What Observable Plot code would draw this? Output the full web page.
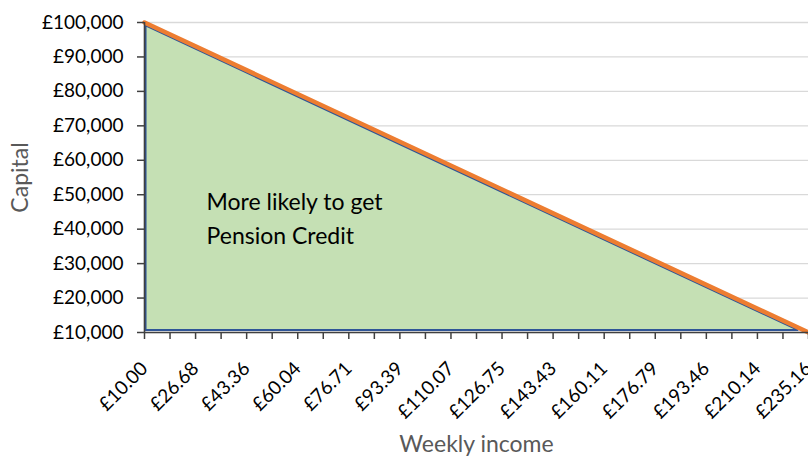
<!DOCTYPE html>
<html>
<head>
<meta charset="utf-8">
<script src="https://cdn.jsdelivr.net/npm/d3@7"></script>
<script src="https://cdn.jsdelivr.net/npm/@observablehq/plot@0.6"></script>
<style>
  html, body { margin: 0; padding: 0; background: #fff; }
  #chart { width: 808px; height: 457px; overflow: hidden; }
</style>
</head>
<body>
<div id="chart"></div>
<script>
// Category index (0..26) of the weekly-income axis; labels shown on every other tick
const incomeLabels = ["£10.00","£26.68","£43.36","£60.04","£76.71","£93.39","£110.07",
  "£126.75","£143.43","£160.11","£176.79","£193.46","£210.14","£235.16"];
const categoryCount = 27;

// Orange threshold line: capital limit at first and last income category
const thresholdIndex = [0, 26];
const thresholdCapital = [100000, 10000];

// Green "more likely" region (slightly inset triangle with blue outline)
const regionIndex = [0.06, 25.6];
const regionCapital = [99000, 10600];
const regionBase = 10600;

// Capital axis ticks
const capitalTicks = [10000, 20000, 30000, 40000, 50000, 60000, 70000, 80000, 90000, 100000];

// Annotation
const noteText = "More likely to get\nPension Credit";
const notePos = { i: 2.43, capital: 52700 };

const threshold = thresholdIndex.map((i, k) => ({ i, capital: thresholdCapital[k] }));
const region = regionIndex.map((i, k) => ({ i, capital: regionCapital[k] }));

const axisColor = "#595959";
const fmtGBP = d => "£" + d3.format(",")(d);

const chart = Plot.plot({
  width: 808,
  height: 457,
  marginLeft: 144,
  marginRight: 0,
  marginTop: 22,
  marginBottom: 125,
  style: { fontFamily: "Lato, 'Open Sans', sans-serif", fontSize: "19px", color: "#000", background: "#fff", overflow: "visible" },
  x: { domain: [0, categoryCount - 1] },
  y: { domain: [10000, 100000] },
  marks: [
    Plot.gridY(capitalTicks, { stroke: "#d9d9d9", strokeOpacity: 1, strokeWidth: 1.3 }),
    Plot.areaY(region, { x: "i", y1: regionBase, y2: "capital", fill: "#C5E0B4", stroke: "#2F5597", strokeWidth: 2 }),
    Plot.line(threshold, { x: "i", y: "capital", stroke: "#ED7D31", strokeWidth: 4.5 }),
    Plot.ruleX([0], { stroke: "#404040", strokeWidth: 1.6 }),
    Plot.ruleY([10000], { stroke: "#404040", strokeWidth: 1.6 }),
    Plot.axisY(capitalTicks, { tickSize: 7, tickPadding: 14, tickFormat: fmtGBP, label: null, stroke: "#404040", strokeWidth: 1.5, fill: "#000", fontSize: 19 }),
    Plot.axisX(d3.range(categoryCount), {
      tickSize: 7, tickPadding: 26, tickRotate: -45, label: null,
      stroke: "#404040", strokeWidth: 1.5, fill: "#000", fontSize: 19,
      tickFormat: i => (i % 2 === 0 ? incomeLabels[i / 2] : "")
    }),
    Plot.text([notePos], { x: "i", y: "capital", text: () => noteText, textAnchor: "start", lineAnchor: "top", lineHeight: 1.48, fontSize: 23, fill: "#000" }),
    Plot.text(["Capital"], { frameAnchor: "left", textAnchor: "middle", lineAnchor: "middle", dx: -124, rotate: -90, fill: axisColor, fontSize: 23 }),
    Plot.text(["Weekly income"], { frameAnchor: "bottom", textAnchor: "middle", lineAnchor: "middle", dy: 112.6, fill: axisColor, fontSize: 23 })
  ]
});
document.getElementById("chart").appendChild(chart);
</script>
</body>
</html>
